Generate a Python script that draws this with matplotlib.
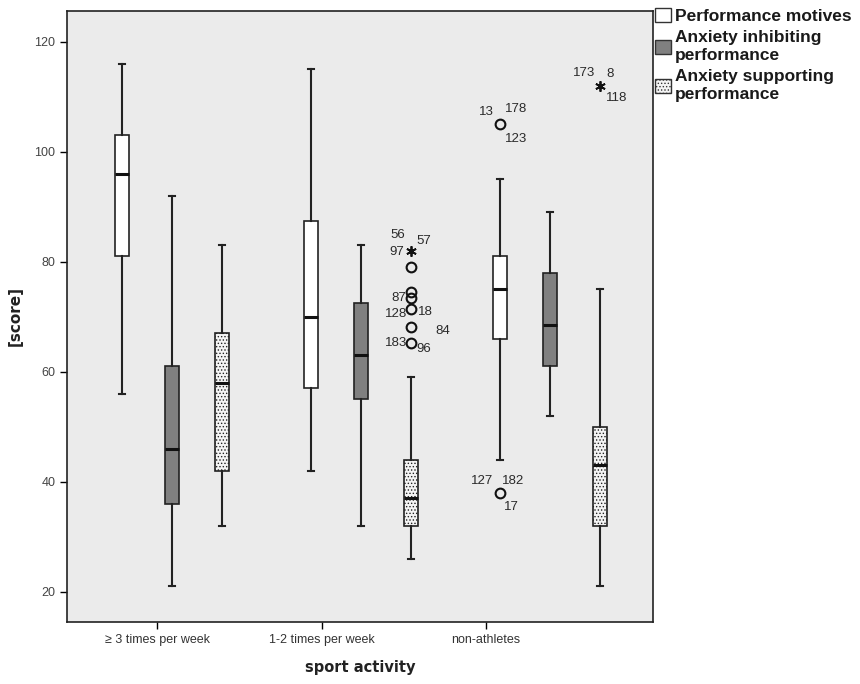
import matplotlib
matplotlib.use("Agg")
from matplotlib import pyplot as plt
from matplotlib.patches import Patch

plt.rcParams["font.family"] = ["Liberation Sans", "DejaVu Sans"]
plt.rcParams["hatch.linewidth"] = 0.6

# ---- data ----
categories = ["\u2265 3 times per week", "1-2 times per week", "non-athletes"]
series_names = ["Performance motives", "Anxiety inhibiting\nperformance", "Anxiety supporting\nperformance"]

# (whisker low, q1, median, q3, whisker high) for each category
performance_motives = [(56, 81, 96, 103, 116), (42, 57, 70, 87.5, 115), (44, 66, 75, 81, 95)]
anxiety_inhibiting = [(21, 36, 46, 61, 92), (32, 55, 63, 72.5, 83), (52, 61, 68.5, 78, 89)]
anxiety_supporting = [(32, 42, 58, 67, 83), (26, 32, 37, 44, 59), (21, 32, 43, 50, 75)]

# outliers (circles) and extremes (stars): category index, series index, value
outlier_cat = [1, 1, 1, 1, 1, 1, 2, 2]
outlier_ser = [2, 2, 2, 2, 2, 2, 0, 0]
outlier_val = [79, 74.5, 73.4, 71.5, 68.2, 65.3, 105, 38]
extreme_cat = [1, 2]
extreme_ser = [2, 2]
extreme_val = [82, 112]

# case labels: id, marker kind, point index
case_ids = ["56", "57", "97", "87", "128", "18", "84", "183", "96",
            "13", "178", "123", "127", "182", "17", "173", "8", "118"]
case_kind = ["x", "x", "x", "o", "o", "o", "o", "o", "o",
             "o", "o", "o", "o", "o", "o", "x", "x", "x"]
case_point = [0, 0, 0, 2, 3, 3, 4, 5, 5, 6, 6, 6, 7, 7, 7, 1, 1, 1]

# ---- layout ----
case_offsets = [(-13, 16), (13, 10), (-14, -1), (-12, 0), (-15, -5), (14, -3), (32, -4),
                (-15, 0), (13, -6), (-14, 12), (16, 15), (16, -15), (-18, 12), (13, 12),
                (11, -14), (-16, 13), (10, 12), (17, -12)]
series_offset = [-0.265, 0.0, 0.265]
tick_pos = [-0.079, 0.794, 1.661]
box_width = 0.074
cap_width = 0.035
styles = [dict(facecolor="white", hatch=None),
          dict(facecolor="#808080", hatch=None),
          dict(facecolor="#f4f4f4", hatch=".....")]

fig = plt.figure(figsize=(8.6, 6.84), dpi=100)
ax = fig.add_axes([67 / 860, 62 / 684, 586 / 860, 611 / 684])
ax.set_facecolor("#ebebeb")

all_series = [performance_motives, anxiety_inhibiting, anxiety_supporting]
for s, data in enumerate(all_series):
    stats = []
    for lo, q1, med, q3, hi in data:
        stats.append(dict(whislo=lo, q1=q1, med=med, q3=q3, whishi=hi, fliers=[]))
    pos = [c + series_offset[s] for c in range(len(categories))]
    bp = ax.bxp(stats, positions=pos, widths=box_width, capwidths=cap_width,
                patch_artist=True, showfliers=False, manage_ticks=False,
                boxprops=dict(edgecolor="#222222", linewidth=1.2),
                whiskerprops=dict(color="#222222", linewidth=1.5),
                capprops=dict(color="#222222", linewidth=1.5),
                medianprops=dict(color="#111111", linewidth=2.2))
    for b in bp["boxes"]:
        b.set_facecolor(styles[s]["facecolor"])
        if styles[s]["hatch"]:
            b.set_hatch(styles[s]["hatch"])

ox = [outlier_cat[i] + series_offset[outlier_ser[i]] for i in range(len(outlier_val))]
ex = [extreme_cat[i] + series_offset[extreme_ser[i]] for i in range(len(extreme_val))]
ax.plot(ox, outlier_val, "o", mfc="none", mec="#111111", mew=1.5, ms=7, ls="none")
ax.plot(ex, extreme_val, marker=(6, 2, 0), color="#111111", mew=1.3, ms=7.5, ls="none")

for cid, kind, idx, off in zip(case_ids, case_kind, case_point, case_offsets):
    if kind == "o":
        xy = (ox[idx], outlier_val[idx])
    else:
        xy = (ex[idx], extreme_val[idx])
    ax.annotate(cid, xy=xy, xytext=off, textcoords="offset pixels",
                ha="center", va="center", fontsize=9.5, color="#2a2a2a")

ax.set_xlim(-0.556, 2.545)
ax.set_ylim(14.5, 125.6)
ax.set_yticks([20, 40, 60, 80, 100, 120])
ax.set_xticks(tick_pos)
ax.set_xticklabels(categories)
ax.tick_params(axis="y", labelsize=9, labelcolor="#444444", length=5, width=1)
ax.tick_params(axis="x", labelsize=9, labelcolor="#333333", length=5, width=1)
for sp in ax.spines.values():
    sp.set_color("#222222")
    sp.set_linewidth(1.2)

ax.set_ylabel("[score]", family="DejaVu Sans", fontweight="bold", fontsize=11, color="#222222", labelpad=8)
ax.set_xlabel("sport activity", family="DejaVu Sans", fontweight="bold", fontsize=10.5, color="#222222", labelpad=10)

handles = [Patch(facecolor=st["facecolor"], edgecolor="#333333", hatch=st["hatch"], linewidth=1) for st in styles]
leg = fig.legend(handles, series_names, loc="upper left", bbox_to_anchor=(655 / 860, 1 - 8 / 684),
                 frameon=False, prop=dict(weight="bold", size=12.5), handlelength=0.9, handleheight=0.9,
                 handletextpad=0.25, labelspacing=0.35, borderpad=0, borderaxespad=0)
for t in leg.get_texts():
    t.set_linespacing(1.25)
    t.set_color("#1a1a1a")

fig.savefig("out.png", dpi=100)
